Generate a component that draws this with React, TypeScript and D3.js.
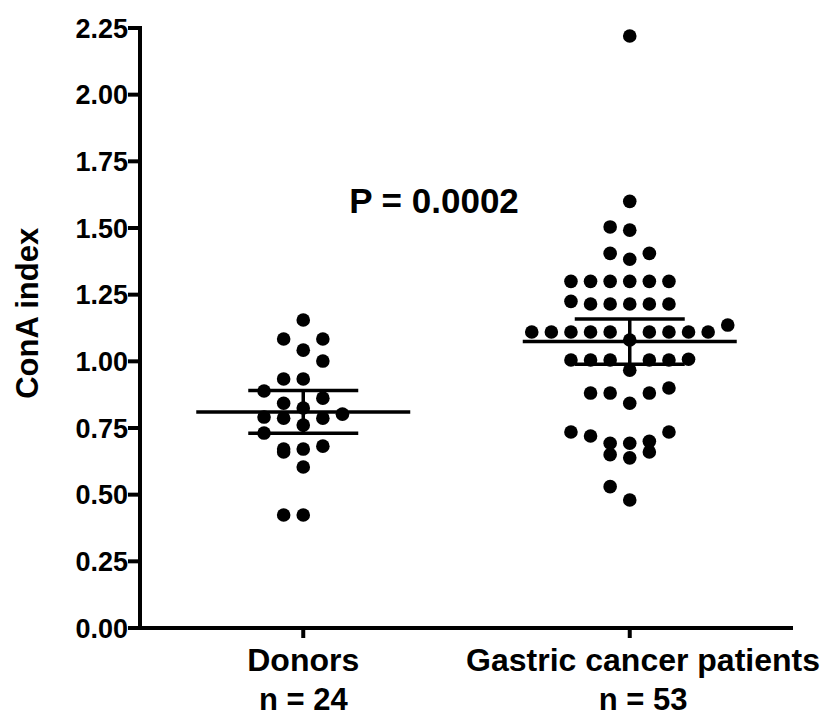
import React from 'react';
import * as d3 from 'd3';

// Group names and sample-size captions under the x axis
const groups = ['Donors', 'Gastric cancer patients'];
const groupCounts = ['n = 24', 'n = 53'];

// ConA index per subject
const donors = [
  1.155, 1.084, 1.084, 1.042, 1.001, 0.934, 0.934, 0.889, 0.862, 0.843, 0.825, 0.802,
  0.791, 0.787, 0.787, 0.761, 0.731, 0.682, 0.671, 0.671, 0.66, 0.604, 0.424, 0.424,
];
const patients = [
  2.22, 1.6, 1.504, 1.492, 1.405, 1.405, 1.383,
  1.3, 1.3, 1.3, 1.3, 1.3, 1.3,
  1.225, 1.215, 1.215, 1.215, 1.215, 1.215,
  1.136, 1.11, 1.11, 1.11, 1.11, 1.11, 1.11, 1.11, 1.11, 1.11, 1.08,
  1.008, 1.005, 1.005, 1.005, 1.005, 1.005, 0.967,
  0.9, 0.881, 0.881, 0.881, 0.843,
  0.735, 0.735, 0.72, 0.7, 0.693, 0.693,
  0.66, 0.65, 0.638, 0.53, 0.48,
];

// two-sided 95% t critical values for n-1 degrees of freedom
const tCritical = [2.069, 2.007];

const yTicks = [0, 0.25, 0.5, 0.75, 1.0, 1.25, 1.5, 1.75, 2.0, 2.25];
const yLabel = 'ConA index';
const pLabel = 'P = 0.0002';

const W = 823;
const H = 718;
const FONT = '"Liberation Sans", Arial, sans-serif';
const CAT_FONT_SIZE = 32;

type Dot = { value: number; slot: number };

// Row-based dot layout: values within one row height share a row and
// are spread into integer columns around the group centre.
function swarm(values: number[], rowHeight: number): Dot[] {
  const sorted = [...values].sort((a, b) => b - a);
  const rows: number[][] = [];
  let cur: number[] = [];
  let start: number | null = null;
  for (const v of sorted) {
    if (start === null || start - v > rowHeight + 1e-9) {
      if (cur.length) rows.push(cur);
      cur = [v];
      start = v;
    } else {
      cur.push(v);
    }
  }
  if (cur.length) rows.push(cur);
  const out: Dot[] = [];
  rows.forEach((row) => {
    const asc = [...row].sort((a, b) => a - b);
    asc.forEach((v, k) => {
      const slot = k === 0 ? 0 : k % 2 === 1 ? -(k + 1) / 2 : k / 2;
      out.push({ value: v, slot });
    });
  });
  return out;
}

// Width of a text string in the category font
function textWidth(s: string, size: number): number {
  const c = document.createElement('canvas').getContext('2d');
  if (!c) return s.length * size * 0.55;
  c.font = `bold ${size}px ${FONT}`;
  return c.measureText(s).width;
}

export default function App() {
  const y = d3.scaleLinear().domain([0, 2.25]).range([628, 28]);
  const x = d3.scalePoint<string>().domain(groups).range([140, 793]).padding(0.5);
  const axisX = 140;
  const step = 19.6;
  const r = 6.8;

  const series = [donors, patients];

  return (
    <svg width={W} height={H} style={{ position: 'absolute', left: 0, top: 0, background: '#fff' }}>
      <rect width={W} height={H} fill="#fff" />

      {/* y axis */}
      <line x1={axisX} x2={axisX} y1={y(2.25) - 2} y2={y(0) + 2} stroke="#000" strokeWidth={4} />
      {yTicks.map((t) => (
        <g key={t}>
          <line x1={axisX - 12} x2={axisX} y1={y(t)} y2={y(t)} stroke="#000" strokeWidth={4} />
          <text
            x={axisX - 12}
            y={y(t)}
            dy="0.36em"
            textAnchor="end"
            fontFamily={FONT}
            fontWeight="bold"
            fontSize={27}
          >
            {t.toFixed(2)}
          </text>
        </g>
      ))}
      <text
        transform={`translate(38, ${y(1.18)}) rotate(-90)`}
        textAnchor="middle"
        fontFamily={FONT}
        fontWeight="bold"
        fontSize={31}
      >
        {yLabel}
      </text>

      {/* x axis */}
      <line x1={axisX - 2} x2={793} y1={y(0)} y2={y(0)} stroke="#000" strokeWidth={4} />
      {groups.map((g, i) => {
        const cx = x(g)!;
        const half = textWidth(g, CAT_FONT_SIZE) / 2;
        // long labels run out towards the right edge of the canvas
        const lx = cx + half > W - 40 ? W - 3 - half : cx;
        return (
          <g key={g}>
            <line x1={cx} x2={cx} y1={y(0)} y2={y(0) + 10} stroke="#000" strokeWidth={4} />
            <text x={lx} y={671} textAnchor="middle" fontFamily={FONT} fontWeight="bold" fontSize={CAT_FONT_SIZE}>
              {g}
            </text>
            <text x={lx} y={710} textAnchor="middle" fontFamily={FONT} fontWeight="bold" fontSize={31}>
              {groupCounts[i]}
            </text>
          </g>
        );
      })}

      {/* dots, mean and 95% CI */}
      {series.map((vals, gi) => {
        const cx = x(groups[gi])!;
        const dots = swarm(vals, 0.07);
        const mean = d3.mean(vals)!;
        const sd = d3.deviation(vals)!;
        const half = (tCritical[gi] * sd) / Math.sqrt(vals.length);
        return (
          <g key={gi}>
            {dots.map((d, k) => (
              <circle key={k} cx={cx + d.slot * step} cy={y(d.value)} r={r} fill="#000" />
            ))}
            <line x1={cx - 107} x2={cx + 107} y1={y(mean)} y2={y(mean)} stroke="#000" strokeWidth={3.5} />
            <line x1={cx - 55} x2={cx + 55} y1={y(mean + half)} y2={y(mean + half)} stroke="#000" strokeWidth={3.5} />
            <line x1={cx - 55} x2={cx + 55} y1={y(mean - half)} y2={y(mean - half)} stroke="#000" strokeWidth={3.5} />
            <line x1={cx} x2={cx} y1={y(mean + half)} y2={y(mean - half)} stroke="#000" strokeWidth={3.5} />
          </g>
        );
      })}

      <text x={434} y={213} textAnchor="middle" fontFamily={FONT} fontWeight="bold" fontSize={35}>
        {pLabel}
      </text>
    </svg>
  );
}
